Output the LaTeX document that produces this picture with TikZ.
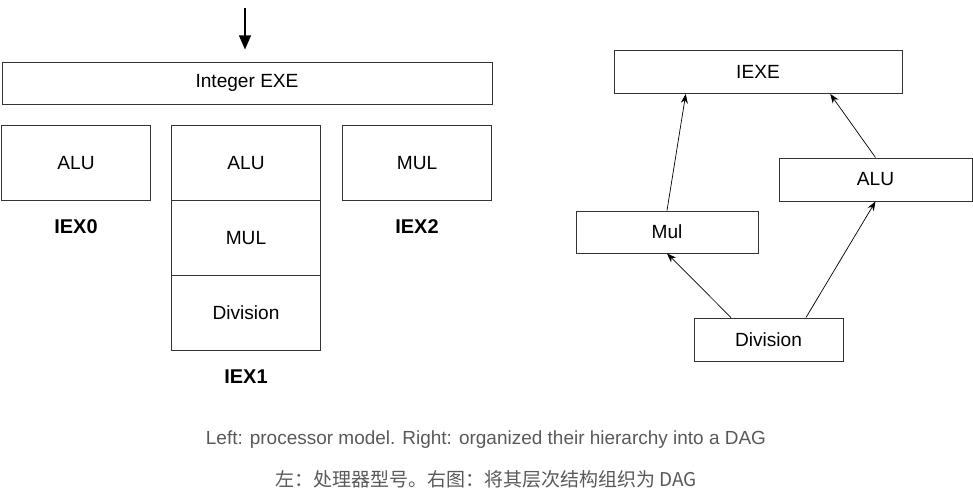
\documentclass[tikz,border=0pt]{standalone}
\usepackage{fontspec}
\setmainfont{Liberation Sans}
\newfontfamily\cjkfont{Noto Sans CJK SC}
\usetikzlibrary{arrows.meta,positioning,calc}

\tikzset{
    unitbox/.style={draw=black!80, line width=0.8pt, inner sep=0pt, font=\fontsize{16.3}{18}\selectfont},
    stagelabel/.style={font=\bfseries\fontsize{17}{19}\selectfont},
    dagarrow/.style={-{Stealth[length=8pt,width=6pt]}, line width=0.6pt},
    captiontext/.style={text=black!65, font=\fontsize{16.2}{18}\selectfont}
}

\begin{document}
\begin{tikzpicture}[x=0.03cm,y=-0.03cm]
    \useasboundingbox (0,0) rectangle (973,502);
    % left: processor model
    \node[unitbox, minimum width=490*0.03cm, minimum height=42*0.03cm] (exe) at (247,83) {Integer EXE};
    \coordinate (in) at (245,8);
    \draw[-{Triangle[length=12pt,width=10pt]}, line width=1.6pt] (in) -- ($(exe.north)+(-2,-12)$);
    \foreach \name/\x/\y/\lab in {alua/76/163/ALU, alub/246/163/ALU, mulb/246/238/MUL, divb/246/313/Division, mulc/417/163/MUL}
    {
        \node[unitbox, minimum width=149*0.03cm, minimum height=75*0.03cm] (\name) at (\x,\y) {\lab};
    }
    \node[stagelabel] (iex0) at (76,227) {IEX0};
    \node[stagelabel] (iex1) at (246,377) {IEX1};
    \node[stagelabel] (iex2) at (417,227) {IEX2};
    % right: DAG
    \node[unitbox, minimum width=288*0.03cm, minimum height=43*0.03cm] (iexe) at (758,72) {IEXE};
    \node[unitbox, minimum width=193*0.03cm, minimum height=43*0.03cm] (alu) at (875.5,179.5) {ALU};
    \node[unitbox, minimum width=182*0.03cm, minimum height=42*0.03cm] (mul) at (667,232) {Mul};
    \node[unitbox, minimum width=149*0.03cm, minimum height=43*0.03cm] (div) at (768.5,339.5) {Division};
    \draw[dagarrow] (mul.north) -- ($(iexe.south west)!0.25!(iexe.south east)$);
    \draw[dagarrow] (alu.north) -- ($(iexe.south west)!0.75!(iexe.south east)$);
    \draw[dagarrow] ($(div.north west)!0.25!(div.north east)$) -- (mul.south);
    \draw[dagarrow] ($(div.north west)!0.75!(div.north east)$) -- (alu.south);
    % caption
    \node[captiontext] (capen) at (486,440) {Left: processor model. Right: organized their hierarchy into a DAG};
    \node[captiontext] (capzh) at (486,479) {\cjkfont 左：处理器型号。右图：将其层次结构组织为 DAG};
\end{tikzpicture}
\end{document}
